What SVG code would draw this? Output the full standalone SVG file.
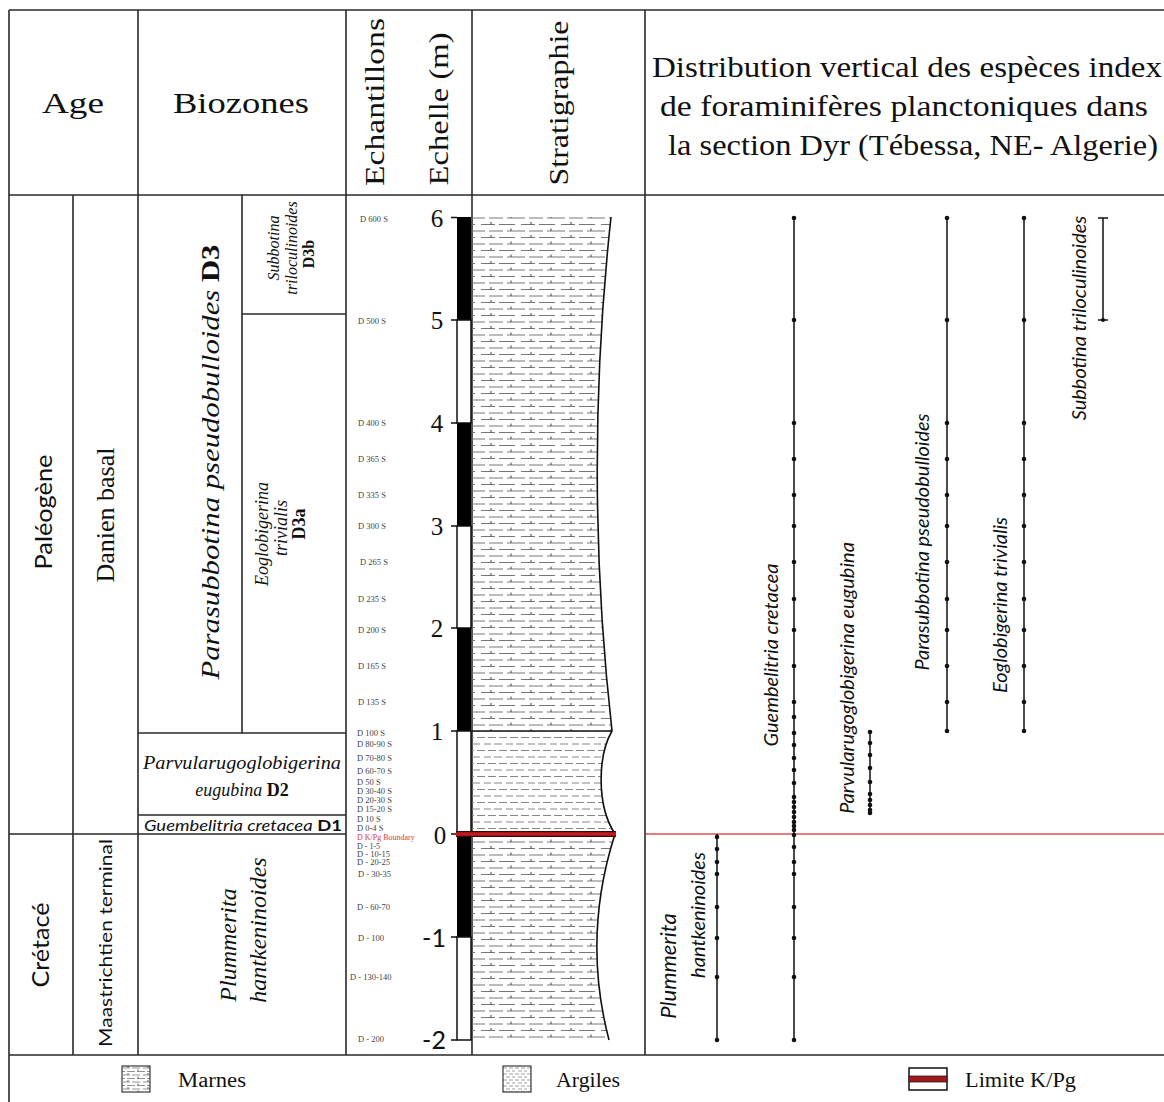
<svg xmlns="http://www.w3.org/2000/svg" width="1164" height="1102" viewBox="0 0 1164 1102">
<style>
.frame{stroke:#2a2a2a;stroke-width:1.6;fill:none}
.hd{font-family:"Liberation Serif","DejaVu Serif",serif;fill:#111}
.sf{font-family:"Liberation Serif","DejaVu Serif",serif;fill:#111}
.ss{font-family:Lato,"Liberation Sans",sans-serif;fill:#111}
.it{font-style:italic}
.bd{font-weight:bold;font-style:normal}
.smp{font-family:"Liberation Serif","DejaVu Serif",serif;fill:#444;font-size:8.5px}
.num{font-family:"Liberation Serif","DejaVu Serif",serif;fill:#111;font-size:25px;text-anchor:middle;dominant-baseline:central}
.sp{stroke:#111;stroke-width:1.5;fill:none}
.dot{fill:#111}
.tick{stroke:#111;stroke-width:1.5}
</style>
<defs>
<pattern id="marnes" patternUnits="userSpaceOnUse" width="40" height="13">
<path d="M1 3.5h14M19 3.5h16M-1 10h6M9 10h14M27 10h14" stroke="#777" stroke-width="1"/>
<path d="M11 1v2.5M31 7.5v2.5" stroke="#444" stroke-width="1"/>
</pattern>
<pattern id="argiles" patternUnits="userSpaceOnUse" width="22" height="13">
<path d="M0 3h7M10 3h8M4 9.5h8M15 9.5h7M-1 9.5h2" stroke="#888" stroke-width="1"/>
</pattern>
<pattern id="marnesS" patternUnits="userSpaceOnUse" width="20" height="7" x="122" y="1066">
<path d="M1 2h7M10 2h8M-1 5.5h4M5 5.5h8M15 5.5h6" stroke="#777" stroke-width="0.8"/>
<path d="M6 0v2M16 3.5v2" stroke="#444" stroke-width="0.8"/>
</pattern>
<pattern id="argilesS" patternUnits="userSpaceOnUse" width="12" height="6" x="503" y="1066">
<path d="M0 2h4M6 2h4M3 5h4M9 5h3" stroke="#888" stroke-width="0.8"/>
</pattern>
</defs>

<rect width="1164" height="1102" fill="#fff"/>

<!-- table frame -->
<g id="table" class="frame">
<path d="M9 10H1164M9 10V1102M9 195H1164M9 1055H1164"/>
<path d="M138 10V1055M346 10V1055M472 10V1055M645 10V1055"/>
<path d="M73 195V1055M242 195V733"/>
<path d="M9 834H346M138 733H346M138 815H346M242 314H346"/>
</g>

<!-- headers -->
<g id="header">
<text class="hd" x="73" y="113" font-size="30" text-anchor="middle" textLength="62" lengthAdjust="spacingAndGlyphs">Age</text>
<text class="hd" x="241" y="113" font-size="30" text-anchor="middle" textLength="136" lengthAdjust="spacingAndGlyphs">Biozones</text>
<text class="hd" font-size="28" text-anchor="middle" dominant-baseline="central" transform="translate(374,102) rotate(-90)" textLength="168" lengthAdjust="spacingAndGlyphs">Echantillons</text>
<text class="hd" font-size="28" text-anchor="middle" dominant-baseline="central" transform="translate(438,109) rotate(-90)" textLength="153" lengthAdjust="spacingAndGlyphs">Echelle (m)</text>
<text class="hd" font-size="28" text-anchor="middle" dominant-baseline="central" transform="translate(558,103) rotate(-90)" textLength="165" lengthAdjust="spacingAndGlyphs">Stratigraphie</text>
<text class="hd" x="907" y="77" font-size="29" text-anchor="middle" textLength="510" lengthAdjust="spacingAndGlyphs">Distribution vertical des espèces index</text>
<text class="hd" x="904" y="116" font-size="29" text-anchor="middle" textLength="488" lengthAdjust="spacingAndGlyphs">de foraminifères planctoniques dans</text>
<text class="hd" x="913" y="155" font-size="29" text-anchor="middle" textLength="490" lengthAdjust="spacingAndGlyphs">la section Dyr (Tébessa, NE- Algerie)</text>
</g>

<!-- age / stage -->
<g id="age">
<text class="ss" font-size="24" text-anchor="middle" dominant-baseline="central" transform="translate(42,512) rotate(-90)" textLength="115" lengthAdjust="spacingAndGlyphs">Paléogène</text>
<text class="sf" font-size="25" text-anchor="middle" dominant-baseline="central" transform="translate(105,515) rotate(-90)" textLength="135" lengthAdjust="spacingAndGlyphs">Danien basal</text>
<text class="ss" font-size="23" text-anchor="middle" dominant-baseline="central" transform="translate(40,945) rotate(-90)" textLength="85" lengthAdjust="spacingAndGlyphs">Crétacé</text>
<text class="ss" font-size="18" text-anchor="middle" dominant-baseline="central" transform="translate(105,943) rotate(-90)" textLength="208" lengthAdjust="spacingAndGlyphs">Maastrichtien terminal</text>
</g>

<!-- biozones -->
<g id="biozones">
<text class="sf" font-size="26" text-anchor="middle" dominant-baseline="central" transform="translate(210,462) rotate(-90)" textLength="435" lengthAdjust="spacingAndGlyphs"><tspan class="it">Parasubbotina pseudobulloides</tspan>  <tspan class="bd">D3</tspan></text>
<text class="sf it" font-size="16" text-anchor="middle" dominant-baseline="central" transform="translate(273,248) rotate(-90)">Subbotina</text>
<text class="sf it" font-size="16" text-anchor="middle" dominant-baseline="central" transform="translate(291,248) rotate(-90)">triloculinoides</text>
<text class="sf bd" font-size="16" text-anchor="middle" dominant-baseline="central" transform="translate(308,254) rotate(-90)">D3b</text>
<text class="sf it" font-size="18" text-anchor="middle" dominant-baseline="central" transform="translate(262,534) rotate(-90)">Eoglobigerina</text>
<text class="sf it" font-size="18" text-anchor="middle" dominant-baseline="central" transform="translate(281,528) rotate(-90)">trivialis</text>
<text class="sf bd" font-size="18" text-anchor="middle" dominant-baseline="central" transform="translate(299,524) rotate(-90)">D3a</text>
<text class="sf it" x="242" y="769" font-size="18" text-anchor="middle" textLength="198" lengthAdjust="spacingAndGlyphs">Parvularugoglobigerina</text>
<text class="sf" x="242" y="796" font-size="18" text-anchor="middle"><tspan class="it">eugubina</tspan> <tspan class="bd">D2</tspan></text>
<text class="ss" x="144" y="831" font-size="16" textLength="198" lengthAdjust="spacingAndGlyphs"><tspan class="it">Guembelitria cretacea</tspan>  <tspan class="bd">D1</tspan></text>
<text class="sf it" font-size="24" text-anchor="middle" dominant-baseline="central" transform="translate(228,945) rotate(-90)">Plummerita</text>
<text class="sf it" font-size="24" text-anchor="middle" dominant-baseline="central" transform="translate(258,930) rotate(-90)">hantkeninoides</text>
</g>

<!-- samples -->
<g id="samples" class="smp" dominant-baseline="central">
<text x="360" y="219">D 600 S</text>
<text x="358" y="321">D 500 S</text>
<text x="358" y="423">D 400 S</text>
<text x="358" y="459">D 365 S</text>
<text x="358" y="495">D 335 S</text>
<text x="358" y="526">D 300 S</text>
<text x="360" y="562">D 265 S</text>
<text x="358" y="599">D 235 S</text>
<text x="358" y="630">D 200 S</text>
<text x="358" y="666">D 165 S</text>
<text x="358" y="702">D 135 S</text>
<text x="357" y="733">D 100 S</text>
<text x="357" y="744">D 80-90 S</text>
<text x="357" y="758">D 70-80 S</text>
<text x="357" y="771">D 60-70 S</text>
<text x="357" y="782">D 50 S</text>
<text x="357" y="791">D 30-40 S</text>
<text x="357" y="800">D 20-30 S</text>
<text x="357" y="809">D 15-20 S</text>
<text x="357" y="819">D 10 S</text>
<text x="357" y="828">D 0-4 S</text>
<text x="357" y="837.5" style="fill:#e03a3a;font-size:8px">D K/Pg Boundary</text>
<text x="357" y="846" style="font-size:8px">D - 1-5</text>
<text x="357" y="853.5">D - 10-15</text>
<text x="357" y="862">D - 20-25</text>
<text x="358" y="874">D - 30-35</text>
<text x="357" y="907">D - 60-70</text>
<text x="358" y="938">D - 100</text>
<text x="350" y="977">D - 130-140</text>
<text x="358" y="1039">D - 200</text>
</g>

<!-- scale -->
<g id="scale">
<rect x="457" y="217" width="14" height="103" fill="#000"/>
<rect x="457" y="320" width="14" height="103" fill="#fff" stroke="#111" stroke-width="1.5"/>
<rect x="457" y="423" width="14" height="103" fill="#000"/>
<rect x="457" y="526" width="14" height="102" fill="#fff" stroke="#111" stroke-width="1.5"/>
<rect x="457" y="628" width="14" height="103" fill="#000"/>
<rect x="457" y="731" width="14" height="103" fill="#fff" stroke="#111" stroke-width="1.5"/>
<rect x="457" y="834" width="14" height="103" fill="#000"/>
<rect x="457" y="937" width="14" height="103" fill="#fff" stroke="#111" stroke-width="1.5"/>
<path class="tick" d="M451 217.5h6M451 320h6M451 423h6M451 526h6M451 628h6M451 731h6M451 834h6M451 937h6M451 1040h6"/>
<text class="num" x="437" y="218">6</text>
<text class="num" x="437" y="320">5</text>
<text class="num" x="437" y="423">4</text>
<text class="num" x="437" y="526">3</text>
<text class="num" x="437" y="628">2</text>
<text class="num" x="437" y="731">1</text>
<text class="num" x="440" y="835">0</text>
<text class="num" x="434" y="937" style="font-family:Lato,'Liberation Sans',sans-serif">-1</text>
<text class="num" x="434" y="1039" style="font-family:Lato,'Liberation Sans',sans-serif">-2</text>
</g>

<!-- stratigraphy -->
<g id="stratigraphy">
<path d="M472 217H611Q583 474 612 731H472Z" fill="url(#marnes)"/>
<path d="M472 731H612C598 755 596 805 615 834H472Z" fill="url(#argiles)"/>
<path d="M472 834H615Q582 937 609 1040H472Z" fill="url(#marnes)"/>
<path d="M611 217Q583 474 612 731C598 755 596 805 615 834Q582 937 609 1040" fill="none" stroke="#111" stroke-width="1.6"/>
<path d="M472 731H612" stroke="#111" stroke-width="1.6"/>
<path d="M456 834H616" stroke="#3a0a0a" stroke-width="6"/>
<path d="M456 834H616" stroke="#c21a1e" stroke-width="3.5"/>
</g>

<!-- K/Pg line in distribution -->
<path d="M646 834H1164" stroke="#e05050" stroke-width="1.5"/>

<!-- species ranges -->
<g id="connectors">
<path class="sp" d="M717 834V1040"/>
<path class="sp" d="M794 218V1040"/>
<path class="sp" d="M870 731V813"/>
<path class="sp" d="M947 218V731"/>
<path class="sp" d="M1024 218V731"/>
<path class="sp" d="M1103 218V320M1098 218H1108M1098 320H1108"/>
</g>

<g id="dots" class="dot">
<circle cx="717" cy="837" r="2.3"/><circle cx="717" cy="849" r="2.3"/><circle cx="717" cy="862" r="2.3"/><circle cx="717" cy="874" r="2.3"/><circle cx="717" cy="907" r="2.3"/><circle cx="717" cy="938" r="2.3"/><circle cx="717" cy="977" r="2.3"/><circle cx="717" cy="1040" r="2.3"/>
<circle cx="794" cy="218" r="2.3"/><circle cx="794" cy="320" r="2.3"/><circle cx="794" cy="423" r="2.3"/><circle cx="794" cy="459" r="2.3"/><circle cx="794" cy="495" r="2.3"/><circle cx="794" cy="526" r="2.3"/><circle cx="794" cy="562" r="2.3"/><circle cx="794" cy="599" r="2.3"/><circle cx="794" cy="630" r="2.3"/><circle cx="794" cy="666" r="2.3"/><circle cx="794" cy="702" r="2.3"/><circle cx="794" cy="717" r="2.3"/><circle cx="794" cy="733" r="2.3"/><circle cx="794" cy="745" r="2.3"/><circle cx="794" cy="758" r="2.3"/><circle cx="794" cy="770" r="2.3"/><circle cx="794" cy="783" r="2.3"/><circle cx="794" cy="797" r="2.3"/><circle cx="794" cy="802" r="2.3"/><circle cx="794" cy="807" r="2.3"/><circle cx="794" cy="812" r="2.3"/><circle cx="794" cy="817" r="2.3"/><circle cx="794" cy="822" r="2.3"/><circle cx="794" cy="826" r="2.3"/><circle cx="794" cy="830" r="2.3"/><circle cx="794" cy="835" r="2.3"/><circle cx="794" cy="847" r="2.3"/><circle cx="794" cy="862" r="2.3"/><circle cx="794" cy="874" r="2.3"/><circle cx="794" cy="907" r="2.3"/><circle cx="794" cy="938" r="2.3"/><circle cx="794" cy="977" r="2.3"/><circle cx="794" cy="1040" r="2.3"/>
<circle cx="870" cy="732" r="2.3"/><circle cx="870" cy="743" r="2.3"/><circle cx="870" cy="755" r="2.3"/><circle cx="870" cy="768" r="2.3"/><circle cx="870" cy="782" r="2.3"/><circle cx="870" cy="794" r="2.3"/><circle cx="870" cy="800" r="2.3"/><circle cx="870" cy="805" r="2.3"/><circle cx="870" cy="810" r="2.3"/><circle cx="870" cy="813" r="2.3"/>
<circle cx="947" cy="218" r="2.3"/><circle cx="947" cy="320" r="2.3"/><circle cx="947" cy="423" r="2.3"/><circle cx="947" cy="459" r="2.3"/><circle cx="947" cy="495" r="2.3"/><circle cx="947" cy="526" r="2.3"/><circle cx="947" cy="562" r="2.3"/><circle cx="947" cy="599" r="2.3"/><circle cx="947" cy="630" r="2.3"/><circle cx="947" cy="666" r="2.3"/><circle cx="947" cy="702" r="2.3"/><circle cx="947" cy="731" r="2.3"/>
<circle cx="1024" cy="218" r="2.3"/><circle cx="1024" cy="320" r="2.3"/><circle cx="1024" cy="423" r="2.3"/><circle cx="1024" cy="459" r="2.3"/><circle cx="1024" cy="495" r="2.3"/><circle cx="1024" cy="526" r="2.3"/><circle cx="1024" cy="562" r="2.3"/><circle cx="1024" cy="599" r="2.3"/><circle cx="1024" cy="630" r="2.3"/><circle cx="1024" cy="666" r="2.3"/><circle cx="1024" cy="702" r="2.3"/><circle cx="1024" cy="731" r="2.3"/>
<circle cx="1103" cy="320" r="2"/>
</g>

<g id="species-labels" class="ss it" font-size="20" text-anchor="middle" dominant-baseline="central">
<text transform="translate(667,966) rotate(-90)" font-size="22">Plummerita</text>
<text transform="translate(697,915) rotate(-90)">hantkeninoides</text>
<text transform="translate(770,655) rotate(-90)">Guembelitria cretacea</text>
<text transform="translate(846,678) rotate(-90)">Parvularugoglobigerina eugubina</text>
<text transform="translate(921,542) rotate(-90)">Parasubbotina pseudobulloides</text>
<text transform="translate(999,605) rotate(-90)">Eoglobigerina trivialis</text>
<text transform="translate(1078,318) rotate(-90)">Subbotina triloculinoides</text>
</g>

<!-- legend -->
<g id="legend">
<rect x="122" y="1066" width="28" height="26" fill="url(#marnesS)" stroke="#111" stroke-width="1"/>
<text class="sf" x="178" y="1087" font-size="20" textLength="68" lengthAdjust="spacingAndGlyphs">Marnes</text>
<rect x="503" y="1066" width="28" height="26" fill="url(#argilesS)" stroke="#111" stroke-width="1"/>
<text class="sf" x="556" y="1087" font-size="20" textLength="64" lengthAdjust="spacingAndGlyphs">Argiles</text>
<rect x="909" y="1068" width="38" height="22" fill="#fff" stroke="#111" stroke-width="1.5"/>
<rect x="909" y="1076" width="38" height="6" fill="#a3161a" stroke="#222" stroke-width="0.8"/>
<text class="sf" x="965" y="1087" font-size="20" textLength="111" lengthAdjust="spacingAndGlyphs">Limite K/Pg</text>
</g>
</svg>
